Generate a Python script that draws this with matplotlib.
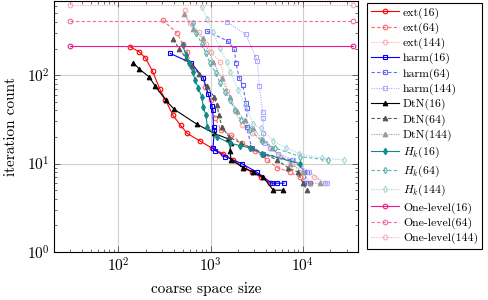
import math
import matplotlib
matplotlib.use('Agg')
import matplotlib.pyplot as plt
from matplotlib.ticker import FuncFormatter, LogLocator, NullFormatter

plt.rcParams['font.family'] = ['cmr10', 'DejaVu Serif']
plt.rcParams['mathtext.fontset'] = 'cm'
plt.rcParams['axes.formatter.use_mathtext'] = True

# ext
ext16_x = [134, 168, 197, 235, 283, 324, 392, 475, 556, 770, 1031, 1355, 1766, 2306, 2818, 3530, 4420]
ext16_y = [209, 184, 156, 111, 69, 53, 35, 27, 22, 18, 15, 13, 11, 9, 8, 7, 6]
ext64_x = [303, 437, 499, 560, 615, 835, 872, 1012, 1119, 1300, 1668, 2198, 3039, 4100, 5260, 7280, 9350, 12000]
ext64_y = [420, 297, 224, 182, 130, 92, 73, 52, 33, 24, 21, 17, 14, 11, 9, 8, 7, 6]
ext144_x = [529, 600, 757, 893, 1012, 1268, 1528, 1845, 2178, 2800, 3620, 4420, 5673, 7650, 10070, 13270, 17450]
ext144_y = [545, 385, 309, 223, 184, 142, 67, 39, 27, 22, 18, 15, 12, 10, 8, 7, 6]

# harm
harm16_x = [366, 620, 835, 946, 1031, 1057, 1078, 1100, 1064, 1132, 1437, 2178, 3170, 4612, 5225, 6270]
harm16_y = [176, 137, 93, 61, 45, 40, 26, 24, 15, 14, 12, 10, 8, 6, 6, 6]
harm64_x = [910, 1540, 1813, 1890, 2040, 2235, 2427, 2490, 2457, 2800, 3740, 7600, 11000, 10400, 12000]
harm64_y = [315, 243, 196, 136, 94, 77, 49, 43, 26, 15, 13, 11, 8, 6, 6]
harm144_x = [1500, 2410, 3090, 3220, 3385, 3680, 3740, 3740, 3900, 4420, 5430, 7910, 11800, 17450, 18500]
harm144_y = [401, 289, 161, 145, 75, 38, 33, 22, 17, 15, 13, 11, 8, 6, 6]

# DtN
dtn16_x = [145, 169, 215, 250, 327, 405, 708, 1091, 1560, 1655, 1627, 1668, 2270, 2913, 3740, 4800, 6170]
dtn16_y = [139, 117, 96, 76, 52, 41, 28, 22, 19, 17, 14, 11, 9, 8, 7, 5, 5]
dtn64_x = [395, 459, 542, 630, 757, 916, 1091, 1176, 1236, 1333, 1588, 2142, 2818, 3706, 5260, 6930, 8900, 10070, 11140]
dtn64_y = [254, 196, 156, 126, 103, 75, 57, 46, 35, 26, 20, 17, 15, 13, 11, 9, 8, 6, 5]
dtn144_x = [516, 650, 822, 1072, 1321, 1629, 1937, 2368, 2890, 3620, 4650, 7280, 10070, 12000, 15400]
dtn144_y = [491, 330, 261, 142, 92, 57, 39, 31, 25, 19, 15, 10, 8, 6, 6]

# H_k
hk16_x = [499, 542, 589, 641, 679, 738, 803, 835, 893, 923, 1176, 1629, 2090, 2683, 3620, 9350]
hk16_y = [219, 168, 136, 109, 88, 71, 57, 44, 35, 26, 20, 17, 16, 15, 13, 10]
hk64_x = [650, 696, 803, 893, 988, 1148, 1268, 1436, 1629, 1845, 2142, 2683, 3620, 5008, 9350, 18600]
hk64_y = [391, 299, 228, 177, 136, 105, 81, 65, 52, 40, 31, 24, 18, 15, 12, 11]
hk144_x = [803, 923, 1057, 1268, 1500, 1629, 2004, 2368, 2913, 3500, 4800, 6590, 9180, 16200, 28000]
hk144_y = [594, 431, 309, 202, 142, 108, 68, 46, 28, 25, 18, 15, 13, 11.5, 11]

# one-level
one_x = [30, 35000]
one16_y = [213, 213]
one64_y = [405, 405]
one144_y = [621, 621]

fig = plt.figure(figsize=(4.89, 3.0), dpi=100)
ax = fig.add_axes([54.3 / 489, 1 - 252 / 300, (358.3 - 54.3) / 489, (252 - 1) / 300])

ms = 3.3
lw = 0.8

def draw(x, y, color, ls, marker, filled, label):
    ax.plot(x, y, color=color, ls=ls, lw=lw, marker=marker, ms=ms, mew=0.8,
            mfc=color if filled else 'none', mec=color, label=label)

draw(ext16_x, ext16_y, '#ff0000', '-', 'o', False, 'ext(16)')
draw(ext64_x, ext64_y, '#ff6666', (0, (3, 2)), 'o', False, 'ext(64)')
draw(ext144_x, ext144_y, '#ffaaaa', (0, (1, 1.2)), 'o', False, 'ext(144)')
draw(harm16_x, harm16_y, '#0000ff', '-', 's', False, 'harm(16)')
draw(harm64_x, harm64_y, '#6666ff', (0, (3, 2)), 's', False, 'harm(64)')
draw(harm144_x, harm144_y, '#aaaaff', (0, (1, 1.2)), 's', False, 'harm(144)')
draw(dtn16_x, dtn16_y, '#000000', '-', '^', True, 'DtN(16)')
draw(dtn64_x, dtn64_y, '#555555', (0, (3, 2)), '^', True, 'DtN(64)')
draw(dtn144_x, dtn144_y, '#999999', (0, (1, 1.2)), '^', True, 'DtN(144)')
draw(hk16_x, hk16_y, '#138a8a', '-', 'd', True, r'$H_k$(16)')
draw(hk64_x, hk64_y, '#5db3b3', (0, (3, 2)), 'd', False, r'$H_k$(64)')
draw(hk144_x, hk144_y, '#a6d6d6', (0, (1, 1.2)), 'd', False, r'$H_k$(144)')
draw(one_x, one16_y, '#f0188c', '-', 'o', False, 'One-level(16)')
draw(one_x, one64_y, '#f26aa8', (0, (3, 2)), 'o', False, 'One-level(64)')
draw(one_x, one144_y, '#f7aacd', (0, (1, 1.2)), 'o', False, 'One-level(144)')

ax.set_xscale('log')
ax.set_yscale('log')
ax.set_xlim(20.2, 40100)
ax.set_ylim(1, 690)

fmt = FuncFormatter(lambda v, p: r'$10^{%d}$' % round(math.log10(v)))
ax.xaxis.set_major_locator(LogLocator(base=10, numticks=10))
ax.yaxis.set_major_locator(LogLocator(base=10, numticks=10))
ax.xaxis.set_major_formatter(fmt)
ax.yaxis.set_major_formatter(fmt)
ax.xaxis.set_minor_formatter(NullFormatter())
ax.yaxis.set_minor_formatter(NullFormatter())
ax.tick_params(which='both', direction='in', top=True, right=True, labelsize=11, color='#333333')
ax.tick_params(which='major', length=4, width=0.5)
ax.tick_params(which='minor', length=2.2, width=0.5)
ax.grid(True, which='major', color='#d0d0d0', lw=0.8)
ax.set_axisbelow(True)
for s in ax.spines.values():
    s.set_linewidth(0.8)

ax.set_xlabel('coarse space size', fontsize=11, labelpad=5)
ax.set_ylabel('iteration count', fontsize=11, labelpad=6)

leg = ax.legend(loc='upper left', bbox_to_anchor=(367 / 489, 1 - 3 / 300),
                bbox_transform=fig.transFigure, fontsize=8.5, frameon=True,
                fancybox=False, edgecolor='black', framealpha=1,
                handlelength=2.4, handletextpad=0.3, labelspacing=0.33,
                borderpad=0.35, borderaxespad=0)
leg.get_frame().set_linewidth(0.8)

fig.savefig('out.png', dpi=100)
